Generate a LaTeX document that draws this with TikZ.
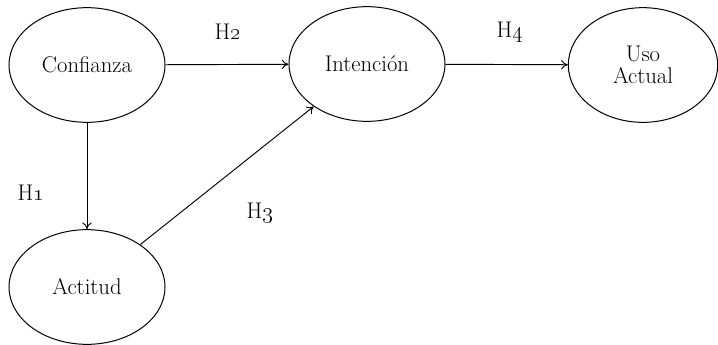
\documentclass[tikz,border=0pt]{standalone}
\usetikzlibrary{shapes.geometric,arrows.meta}
\begin{document}
\begin{tikzpicture}[x=0.75pt,y=-0.75pt,
  latent/.style={draw, line width=0.75pt, ellipse, inner sep=0pt,
    minimum width=117pt, minimum height=86pt, align=center,
    font=\fontsize{17}{19}\selectfont},
  conn/.style={line width=0.7pt, -{To[length=5pt,width=7pt]}},
  hlabel/.style={font=\fontsize{17}{19}\selectfont, inner sep=0pt}]
\useasboundingbox (0,0) rectangle (718,344);
\node[latent] (conf) at (87,65) {Confianza};
\node[latent] (int) at (367,64) {Intención};
\node[latent, minimum width=112pt] (uso) at (643,65) {Uso\\[-2pt]Actual};
\node[latent] (act) at (87,287) {Actitud};
\draw[conn] (conf) -- (int);
\draw[conn] (int) -- (uso);
\draw[conn] (conf) -- (act);
\draw[conn] (act) -- (int);
\node[hlabel] (h1) at (31,193) {H\oldstylenums{1}};
\node[hlabel] (h2) at (228,32) {H\oldstylenums{2}};
\node[hlabel] (h3) at (260,213) {H\oldstylenums{3}};
\node[hlabel] (h4) at (510,32) {H\oldstylenums{4}};
\end{tikzpicture}
\end{document}
